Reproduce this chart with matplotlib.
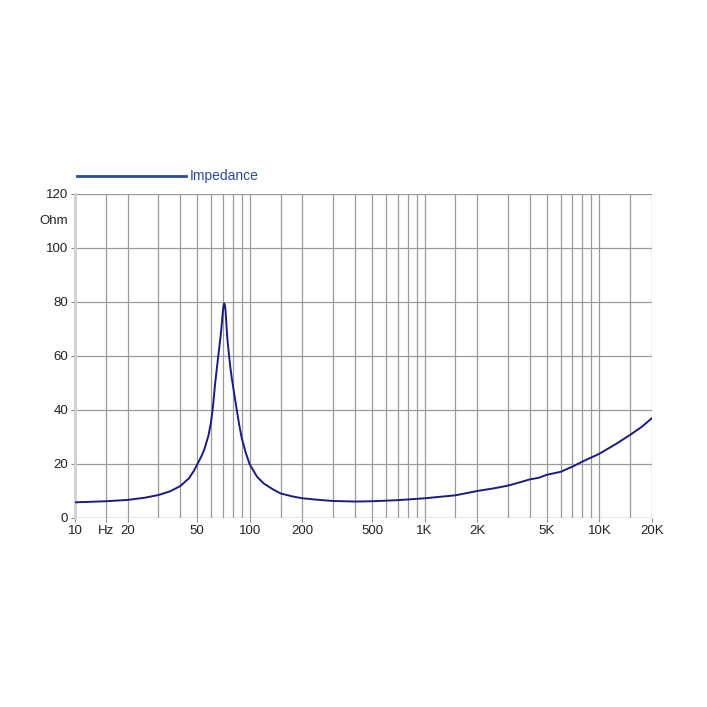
import matplotlib.pyplot as plt
from matplotlib.ticker import FixedLocator, NullFormatter

plt.rcParams['font.family'] = ['Liberation Sans', 'DejaVu Sans']

freq = [10, 15, 20, 25, 30, 35, 40, 45, 48, 50, 53, 55, 58, 60, 61.5, 63.4, 66, 68,
        69.2, 70, 70.7, 71.4, 72.1, 72.8, 73.6, 74.5, 76, 77.5, 79, 81, 84, 87, 90,
        95, 100, 110, 120, 135, 150, 175, 200, 250, 300, 400, 500, 700, 1000, 1500,
        2000, 2500, 3000, 3500, 4000, 4500, 5000, 6000, 7000, 8000, 10000, 12500,
        15000, 17500, 20000]
impedance = [5.8, 6.2, 6.7, 7.5, 8.5, 9.9, 11.8, 14.8, 17.6, 19.8, 23, 25.5, 30.5,
             35.5, 41, 50, 60, 67, 72, 76, 78.5, 79.5, 78.8, 76, 71, 66, 60.5, 55.5,
             51.5, 47, 40.5, 34.5, 29.5, 24, 19.8, 15.3, 12.8, 10.7, 9.1, 8.0, 7.3,
             6.7, 6.3, 6.1, 6.2, 6.6, 7.3, 8.4, 10, 11, 12, 13.2, 14.3, 14.9, 16, 17.1,
             19, 20.9, 23.8, 27.5, 30.8, 33.8, 37]

x_grid = [15, 20, 30, 40, 50, 60, 70, 80, 90, 100, 150, 200, 300, 400, 500, 600, 700,
          800, 900, 1000, 1500, 2000, 3000, 4000, 5000, 6000, 7000, 8000, 9000, 10000,
          15000, 20000]
x_labels = {10: '10', 15: 'Hz', 20: '20', 50: '50', 100: '100', 200: '200', 500: '500',
            1000: '1K', 2000: '2K', 5000: '5K', 10000: '10K', 20000: '20K'}
y_ticks = [0, 20, 40, 60, 80, 100, 120]

fig = plt.figure(figsize=(7.07, 7.07), dpi=100)
ax = fig.add_axes([75 / 707, 1 - 518 / 707, 577 / 707, 324 / 707])

ax.set_xscale('log')
ax.set_xlim(10, 20000)
ax.set_ylim(0, 120)

# grid lines drawn by hand (15 Hz style lines included)
for f in x_grid:
    ax.axvline(f, color='#9a9a9a', lw=0.9, zorder=1)
for v in y_ticks[1:]:
    ax.axhline(v, color='#9a9a9a', lw=0.9, zorder=1)
ax.axhline(0, color='#8a8a8a', lw=1.0, zorder=1)

ax.plot(freq, impedance, color='#1c1c80', lw=1.4, zorder=3, solid_joinstyle='round')

for s in ['top', 'right', 'bottom']:
    ax.spines[s].set_visible(False)
ax.spines['left'].set_color('#cfcfcf')
ax.spines['left'].set_linewidth(2)

ax.xaxis.set_major_locator(FixedLocator(list(x_labels.keys())))
ax.set_xticklabels(list(x_labels.values()))
ax.xaxis.set_minor_locator(FixedLocator([]))
ax.xaxis.set_minor_formatter(NullFormatter())
ax.set_yticks(y_ticks)
ax.tick_params(axis='both', colors='#888888', labelcolor='#222222', labelsize=9.5,
               length=3, width=0.8, pad=2)

ax.text(-0.012, 110, 'Ohm', transform=ax.get_yaxis_transform(), ha='right',
        va='center', fontsize=9.5, color='#222222')

# legend
fig.lines.append(plt.Line2D([77 / 707, 186 / 707], [1 - 176 / 707] * 2,
                            transform=fig.transFigure, color='#2a4a9c', lw=2))
fig.text(190 / 707, 1 - 176 / 707, 'Impedance', color='#2a4a9c', fontsize=10,
         va='center', ha='left')

fig.savefig('out.png', dpi=100, facecolor='white')
